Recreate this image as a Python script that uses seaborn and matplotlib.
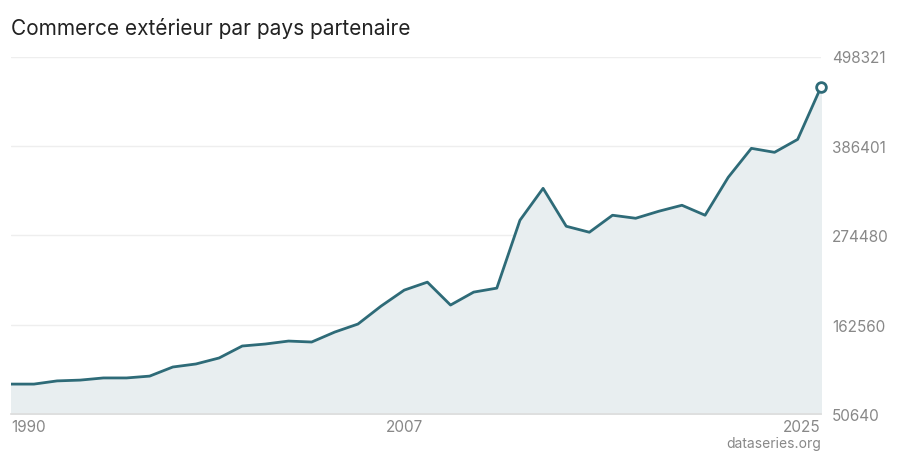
import numpy as np
import pandas as pd
import matplotlib.pyplot as plt
import seaborn as sns

years = list(range(1990, 2026))
values = [88000, 88000, 92000, 93000, 95700, 95700, 98000, 109400, 113200, 120700,
          135700, 138200, 141900, 140700, 153200, 163200, 185700, 205700, 215700, 187000,
          203200, 208200, 293200, 333200, 285700, 278200, 299500, 295700, 304500, 312000,
          299500, 347000, 383300, 378300, 394500, 459600]
yticks = [50640, 162560, 274480, 386401, 498321]
xticks = [1990, 2007, 2025]

df = pd.DataFrame({'year': years, 'value': values})

sns.set_theme(style="white")
plt.rcParams['font.family'] = ['Inter', 'DejaVu Sans']

fig, ax = plt.subplots(figsize=(9, 4.6), dpi=100)
fig.subplots_adjust(left=0.012, right=0.912, top=0.875, bottom=0.098)

color = '#2e6b78'
ax.fill_between(df['year'], df['value'], yticks[0], color='#e8eef0')
sns.lineplot(data=df, x='year', y='value', ax=ax, color=color, linewidth=2)
ax.plot(years[-1], values[-1], 'o', ms=7, mfc='white', mec=color, mew=2, clip_on=False)

ax.set_xlim(1990, 2025)
ax.set_ylim(yticks[0], yticks[-1])
ax.set_yticks(yticks)
ax.set_yticklabels([str(t) for t in yticks])
ax.set_xticks(xticks)
ax.yaxis.tick_right()
ax.tick_params(axis='both', length=0, labelsize=11, labelcolor='#888888')
ax.tick_params(axis='y', pad=8)
ax.tick_params(axis='x', pad=4)
for lbl, ha in zip(ax.get_xticklabels(), ['left', 'center', 'right']):
    lbl.set_ha(ha)
ax.grid(axis='y', color='#eeeeee', linewidth=1)
for s in ax.spines.values():
    s.set_visible(False)
ax.spines['bottom'].set_visible(True)
ax.spines['bottom'].set_color('#dddddd')
ax.set_xlabel('')
ax.set_ylabel('')

fig.text(0.012, 0.937, 'Commerce extérieur par pays partenaire', fontsize=15, color='#222222', va='center')
fig.text(0.912, 0.025, 'dataseries.org', fontsize=10, color='#888888', ha='right')

fig.savefig('out.png')
